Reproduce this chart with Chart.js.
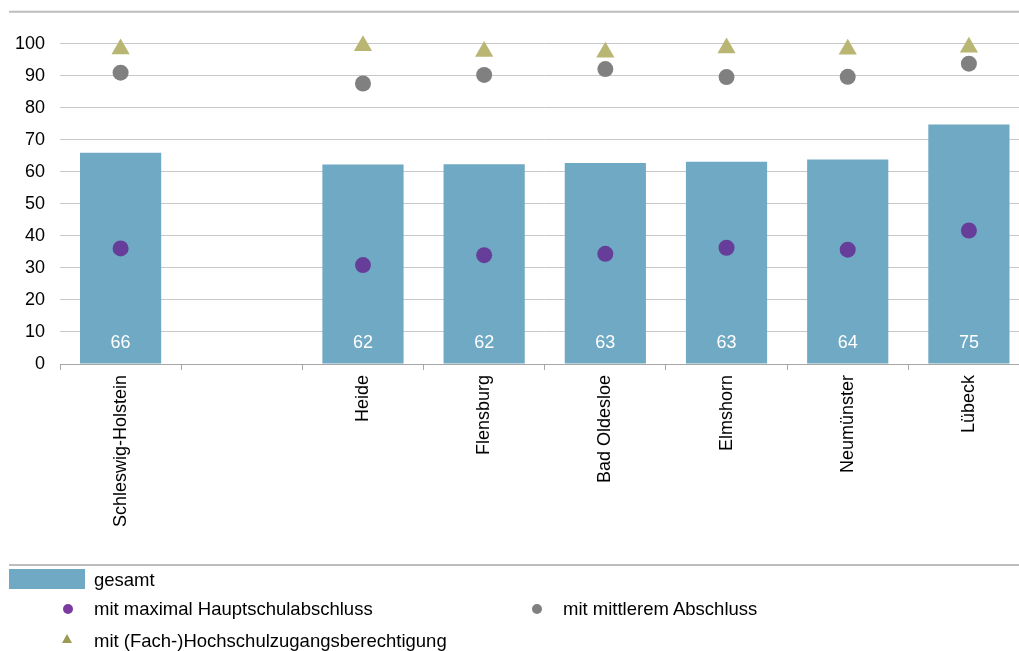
<!DOCTYPE html>
<html lang="de">
<head>
<meta charset="utf-8">
<script src="https://cdn.jsdelivr.net/npm/chart.js@4/dist/chart.umd.min.js"></script>
<style>
    html, body { margin: 0; padding: 0; background: #fff; overflow: hidden; }
    #wrap { position: relative; width: 1019px; height: 651px; overflow: hidden; }
    #grafico { position: absolute; left: 0; top: -14px; }
    .legende { position: absolute; font-family: "Liberation Sans", Arial, sans-serif; font-size: 18.5px; color: #000; line-height: 20px; white-space: nowrap; }
    .marker { position: absolute; }
</style>
</head>
<body>
<div id="wrap">
    <canvas id="grafico" width="1040" height="665"></canvas>
    <div id="legende"></div>
</div>
<script>
const kategorien = ["Schleswig-Holstein", "", "Heide", "Flensburg", "Bad Oldesloe", "Elmshorn", "Neumünster", "Lübeck"];
const gesamt = [66.0, null, 62.3, 62.4, 62.8, 63.2, 63.9, 74.8];
const hauptschule = [36.1, null, 30.9, 34.0, 34.4, 36.3, 35.7, 41.7];
const mittlerer = [91.0, null, 87.6, 90.3, 92.1, 89.6, 89.7, 93.8];
const hochschule = [98.4, null, 99.4, 97.6, 97.4, 98.7, 98.3, 98.9];
const yTicks = [0, 10, 20, 30, 40, 50, 60, 70, 80, 90, 100];

const schrift = "'Liberation Sans', Arial, sans-serif";
const farben = {
    gesamt: "#70a9c3",
    haupt: "#663e9a",
    mittel: "#808080",
    hoch: "#b9b674"
};
const versatz = 14; // Canvas liegt 14px höher als die Seite

// Linien oben / unten und Werte in den Balken
const extras = {
    id: "extras",
    afterDraw(chart) {
        const ctx = chart.ctx;
        const area = chart.chartArea;
        ctx.save();
        ctx.strokeStyle = "#bdbdbd";
        ctx.lineWidth = 2;
        ctx.beginPath();
        ctx.moveTo(9, area.top);
        ctx.lineTo(chart.width, area.top);
        ctx.moveTo(9, 565 + versatz);
        ctx.lineTo(chart.width, 565 + versatz);
        ctx.stroke();

        const meta = chart.getDatasetMeta(0);
        ctx.fillStyle = "#ffffff";
        ctx.font = "18px " + schrift;
        ctx.textAlign = "center";
        ctx.textBaseline = "middle";
        meta.data.forEach((bar, i) => {
            if (gesamt[i] === null) return;
            ctx.fillText(Math.round(gesamt[i]), bar.x, area.bottom - 21);
        });
        ctx.restore();
    }
};

const ctx = document.getElementById("grafico").getContext("2d");
const chart = new Chart(ctx, {
    type: "bar",
    data: {
        labels: kategorien,
        datasets: [
            {
                type: "bar",
                label: "gesamt",
                data: gesamt,
                backgroundColor: farben.gesamt,
                barPercentage: 0.67,
                categoryPercentage: 1,
                order: 2
            },
            {
                type: "line",
                label: "mit maximal Hauptschulabschluss",
                data: hauptschule,
                showLine: false,
                pointStyle: "circle",
                pointRadius: 8,
                pointBackgroundColor: farben.haupt,
                pointBorderWidth: 0,
                order: 1
            },
            {
                type: "line",
                label: "mit mittlerem Abschluss",
                data: mittlerer,
                showLine: false,
                pointStyle: "circle",
                pointRadius: 8,
                pointBackgroundColor: farben.mittel,
                pointBorderWidth: 0,
                order: 1
            },
            {
                type: "line",
                label: "mit (Fach-)Hochschulzugangsberechtigung",
                data: hochschule,
                showLine: false,
                pointStyle: "triangle",
                pointRadius: 10.5,
                pointBackgroundColor: farben.hoch,
                pointBorderWidth: 0,
                order: 1
            }
        ]
    },
    options: {
        responsive: false,
        animation: false,
        layout: { padding: { top: 11, left: 0, right: 0, bottom: 0 } },
        plugins: {
            legend: { display: false },
            tooltip: { enabled: false }
        },
        scales: {
            x: {
                afterFit(scale) { scale.height = 287; },
                border: { color: "#a6a6a6", width: 1 },
                grid: { drawOnChartArea: false, drawTicks: true, tickLength: 6, color: "#a6a6a6", offset: true },
                ticks: {
                    color: "#000",
                    font: { family: schrift, size: 18 },
                    maxRotation: 90,
                    minRotation: 90,
                    padding: 5,
                    autoSkip: false
                }
            },
            y: {
                min: 0,
                max: 110,
                afterFit(scale) { scale.width = 60; },
                afterBuildTicks(scale) { scale.ticks = yTicks.map(v => ({ value: v })); },
                border: { display: false },
                grid: {
                    drawTicks: false,
                    color: c => (c.tick && c.tick.value === 0) ? "rgba(0,0,0,0)" : "#c8c8c8",
                    lineWidth: 1
                },
                ticks: {
                    color: "#000",
                    font: { family: schrift, size: 18 },
                    padding: 15
                }
            }
        }
    },
    plugins: [extras]
});

// Legende
const legende = document.getElementById("legende");
const eintraege = [
    { text: chart.data.datasets[0].label, x: 94, y: 580, art: "balken", farbe: farben.gesamt },
    { text: chart.data.datasets[1].label, x: 94, y: 609, art: "kreis", farbe: "#7a3aa0", mx: 68 },
    { text: chart.data.datasets[2].label, x: 563, y: 609, art: "kreis", farbe: farben.mittel, mx: 537 },
    { text: chart.data.datasets[3].label, x: 94, y: 641, art: "dreieck", farbe: "#9d9a55", mx: 67 }
];
eintraege.forEach(e => {
    const t = document.createElement("div");
    t.className = "legende";
    t.textContent = e.text;
    t.style.left = e.x + "px";
    t.style.top = (e.y - 10) + "px";
    legende.appendChild(t);

    const m = document.createElement("div");
    m.className = "marker";
    if (e.art === "balken") {
        m.style.left = "9px";
        m.style.top = "569px";
        m.style.width = "76px";
        m.style.height = "20px";
        m.style.background = e.farbe;
    } else if (e.art === "kreis") {
        m.style.left = (e.mx - 5) + "px";
        m.style.top = (e.y - 5) + "px";
        m.style.width = "10px";
        m.style.height = "10px";
        m.style.borderRadius = "50%";
        m.style.background = e.farbe;
    } else {
        m.style.left = (e.mx - 5) + "px";
        m.style.top = (e.y - 7) + "px";
        m.style.width = "0";
        m.style.height = "0";
        m.style.borderLeft = "5px solid transparent";
        m.style.borderRight = "5px solid transparent";
        m.style.borderBottom = "9px solid " + e.farbe;
    }
    legende.appendChild(m);
});
</script>
</body>
</html>
